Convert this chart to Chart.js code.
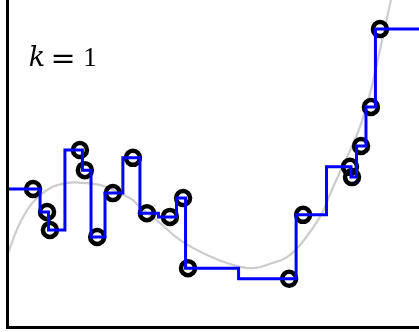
<!DOCTYPE html>
<html>
<head>
<meta charset="utf-8">
<script src="https://cdn.jsdelivr.net/npm/chart.js@4"></script>
<style>
  html, body { margin: 0; padding: 0; background: #fff; }
</style>
</head>
<body>
<canvas id="grafica" width="419" height="332"></canvas>
<script>
// muestras de entrenamiento
const muestrasX = [0.61, 0.95, 1.02, 1.75, 1.87, 2.17, 2.55, 3.04, 3.38, 3.94, 4.26, 4.38, 6.84, 7.18, 8.32, 8.37, 8.59, 8.83, 9.05];
const muestrasY = [3.39, 2.83, 2.39, 4.34, 3.85, 2.22, 3.29, 4.15, 2.80, 2.71, 3.17, 1.46, 1.20, 2.76, 3.93, 3.68, 4.44, 5.39, 7.29];

// función verdadera (curva gris)
const curvaX = [0, 0.29, 0.61, 1.02, 1.44, 1.82, 2.24, 2.65, 3.04, 3.21, 3.70, 4.18, 4.84, 5.47, 5.96, 6.45, 6.79, 7.10, 7.59, 7.91, 8.25, 8.56, 8.81, 9.05, 9.29, 9.36];
const curvaY = [1.83, 2.56, 3.07, 3.41, 3.54, 3.54, 3.49, 3.32, 3.12, 2.95, 2.56, 2.15, 1.78, 1.54, 1.46, 1.59, 1.73, 2.02, 2.71, 3.44, 4.17, 4.90, 5.73, 6.78, 7.88, 8.20];

const xMin = 0, xMax = 10;
const yMin = 0, yMax = 8;
const etiqueta = ['k', '=', '1'];

// predicción k=1: escalones a mitad de camino entre muestras
const escalonX = [xMin, ...muestrasX, xMax];
const escalonY = [muestrasY[0], ...muestrasY, muestrasY[muestrasY.length - 1]];

const aPuntos = (xs, ys) => xs.map((x, i) => ({ x: x, y: ys[i] }));

// ejes a la izquierda y abajo, y el texto k = 1
const ejesYTexto = {
   id: 'ejesYTexto',
   afterDraw(chart) {
      const { ctx, chartArea } = chart;
      ctx.save();
      ctx.strokeStyle = '#000';
      ctx.lineWidth = 3;
      ctx.beginPath();
      ctx.moveTo(chartArea.left - 0.5, chartArea.top);
      ctx.lineTo(chartArea.left - 0.5, chartArea.bottom - 0.5);
      ctx.lineTo(chartArea.right, chartArea.bottom - 0.5);
      ctx.stroke();

      ctx.fillStyle = '#000';
      ctx.textBaseline = 'alphabetic';
      ctx.textAlign = 'center';
      ctx.font = 'italic 27px "DejaVu Serif"';
      ctx.fillText(etiqueta[0], 37, 66);
      ctx.font = '30px "DejaVu Serif"';
      ctx.fillText(etiqueta[1], 63, 68);
      ctx.font = '27px "Liberation Serif"';
      ctx.fillText(etiqueta[2], 90, 66);
      ctx.restore();
   }
};

const ctx = document.getElementById('grafica').getContext('2d');

const chart = new Chart(ctx, {
   type: 'line',
   data: {
      datasets: [{
         label: 'k = 1',
         data: aPuntos(escalonX, escalonY),
         borderColor: '#0000ff',
         borderWidth: 3,
         stepped: 'middle',
         pointRadius: 0,
         fill: false,
         order: 0
      }, {
         label: 'muestras',
         data: aPuntos(muestrasX, muestrasY),
         showLine: false,
         pointRadius: 7,
         pointBorderWidth: 4.5,
         pointBorderColor: '#000',
         pointBackgroundColor: 'rgba(0,0,0,0)',
         order: 1
      }, {
         label: 'verdadera',
         data: aPuntos(curvaX, curvaY),
         borderColor: '#cccccc',
         borderWidth: 2.2,
         tension: 0.4,
         pointRadius: 0,
         fill: false,
         order: 2
      }]
   },
   options: {
      responsive: false,
      animation: false,
      devicePixelRatio: 1,
      layout: {
         autoPadding: false,
         padding: { left: 8, right: 0, top: 0, bottom: 4 }
      },
      plugins: {
         legend: { display: false },
         tooltip: { enabled: false }
      },
      scales: {
         x: { type: 'linear', min: xMin, max: xMax, display: false },
         y: { type: 'linear', min: yMin, max: yMax, display: false }
      }
   },
   plugins: [ejesYTexto]
});
</script>
</body>
</html>
